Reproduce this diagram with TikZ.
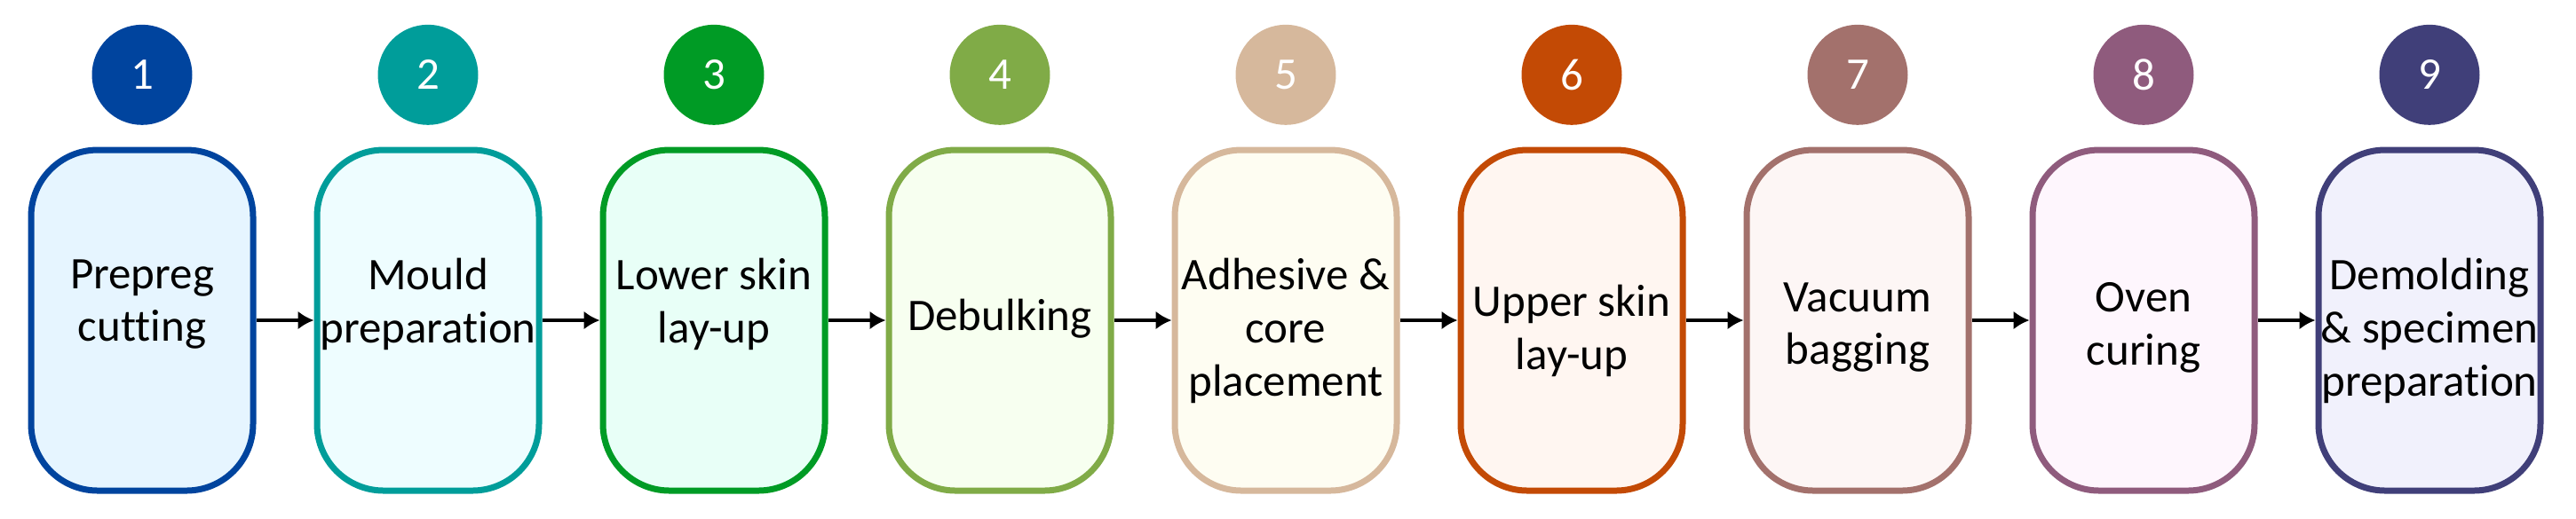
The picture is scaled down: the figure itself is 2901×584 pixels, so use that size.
\documentclass[tikz,border=0pt]{standalone}
\usepackage{fontspec}
\setmainfont{Carlito}[Ligatures=NoCommon]
\usetikzlibrary{positioning,arrows.meta}

\definecolor{cut}{HTML}{00449E}     \definecolor{cutbg}{HTML}{E6F5FF}
\definecolor{mould}{HTML}{009D9A}   \definecolor{mouldbg}{HTML}{EEFDFF}
\definecolor{lower}{HTML}{009B25}   \definecolor{lowerbg}{HTML}{E8FFF7}
\definecolor{debulk}{HTML}{80AB47}  \definecolor{debulkbg}{HTML}{F7FFF0}
\definecolor{core}{HTML}{D6B89C}    \definecolor{corebg}{HTML}{FEFDF2}
\definecolor{upper}{HTML}{C34A05}   \definecolor{upperbg}{HTML}{FFF6F1}
\definecolor{vacuum}{HTML}{A3716C}  \definecolor{vacuumbg}{HTML}{FDF6F5}
\definecolor{oven}{HTML}{8F5B7D}    \definecolor{ovenbg}{HTML}{FEF6FD}
\definecolor{demold}{HTML}{403F79}  \definecolor{demoldbg}{HTML}{F1F1FC}

\begin{document}
\begin{tikzpicture}[
  x=0.1mm, y=-0.1mm,
  node distance=6.5mm,
  stepbox/.style={rectangle, rounded corners=7.5mm, line width=0.7mm, minimum width=25mm, minimum height=38.4mm},
  badge/.style={circle, minimum size=11.3mm, inner sep=0pt, text=white, font=\fontsize{14.5}{16}\selectfont},
  steptext/.style={align=center, inner sep=0pt, font=\fontsize{14.5}{17}\selectfont},
  flow/.style={-{Latex[length=1.8mm, width=2.1mm]}, line width=0.4mm}
]
  \useasboundingbox (0,0) rectangle (2901,584);

  % process steps
  \node (s1) at (160,361) [stepbox, draw=cut, fill=cutbg] {};
  \node (s2) [stepbox, right=of s1, draw=mould, fill=mouldbg] {};
  \node (s3) [stepbox, right=of s2, draw=lower, fill=lowerbg] {};
  \node (s4) [stepbox, right=of s3, draw=debulk, fill=debulkbg] {};
  \node (s5) [stepbox, right=of s4, draw=core, fill=corebg] {};
  \node (s6) [stepbox, right=of s5, draw=upper, fill=upperbg] {};
  \node (s7) [stepbox, right=of s6, draw=vacuum, fill=vacuumbg] {};
  \node (s8) [stepbox, right=of s7, draw=oven, fill=ovenbg] {};
  \node (s9) [stepbox, right=of s8, draw=demold, fill=demoldbg] {};

  \node (t1) at ([yshift=1.8mm]s1.center) [steptext] {Prepreg\\cutting};
  \node (t2) at ([yshift=1.8mm]s2.center) [steptext] {Mould\\preparation};
  \node (t3) at ([yshift=1.8mm]s3.center) [steptext] {Lower skin\\lay-up};
  \node (t4) at ([yshift=0.2mm]s4.center) [steptext] {Debulking};
  \node (t5) at ([yshift=-1.2mm]s5.center) [steptext] {Adhesive \&\\core\\placement};
  \node (t6) at ([yshift=-1.2mm]s6.center) [steptext] {Upper skin\\lay-up};
  \node (t7) at ([yshift=-0.8mm]s7.center) [steptext] {Vacuum\\bagging};
  \node (t8) at ([yshift=-0.8mm]s8.center) [steptext] {Oven\\curing};
  \node (t9) at ([yshift=-1.2mm]s9.center) [steptext] {Demolding\\\& specimen\\preparation};

  % step numbers
  \node (n1) [badge, above=2.4mm of s1, fill=cut] {1};
  \node (n2) [badge, above=2.4mm of s2, fill=mould] {2};
  \node (n3) [badge, above=2.4mm of s3, fill=lower] {3};
  \node (n4) [badge, above=2.4mm of s4, fill=debulk] {4};
  \node (n5) [badge, above=2.4mm of s5, fill=core] {5};
  \node (n6) [badge, above=2.4mm of s6, fill=upper] {6};
  \node (n7) [badge, above=2.4mm of s7, fill=vacuum] {7};
  \node (n8) [badge, above=2.4mm of s8, fill=oven] {8};
  \node (n9) [badge, above=2.4mm of s9, fill=demold] {9};

  \draw[flow] (s1) -- (s2);
  \draw[flow] (s2) -- (s3);
  \draw[flow] (s3) -- (s4);
  \draw[flow] (s4) -- (s5);
  \draw[flow] (s5) -- (s6);
  \draw[flow] (s6) -- (s7);
  \draw[flow] (s7) -- (s8);
  \draw[flow] (s8) -- (s9);
\end{tikzpicture}
\end{document}
